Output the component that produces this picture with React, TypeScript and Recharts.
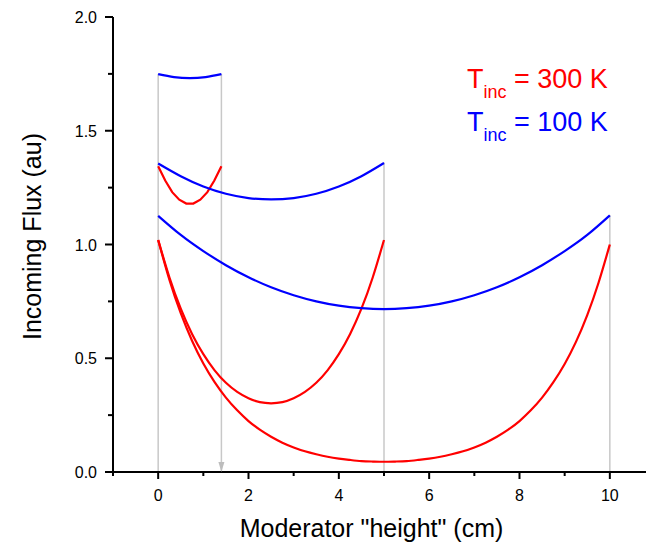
import React from 'react';
import { LineChart, Line, XAxis, YAxis, ReferenceLine, ReferenceDot } from 'recharts';

// moderator height 1.4 cm
const xs14Red = [0, 0.156, 0.311, 0.467, 0.622, 0.778, 0.933, 1.089, 1.244, 1.4];
const red14 = [1.344, 1.281, 1.23, 1.197, 1.18, 1.18, 1.197, 1.23, 1.281, 1.344];
const xs14Blue = [0, 0.35, 0.7, 1.05, 1.4];
const blue14 = [1.749, 1.736, 1.731, 1.736, 1.749];

// moderator height 5 cm
const xs5Red = [0, 0.25, 0.5, 0.75, 1, 1.25, 1.5, 1.75, 2, 2.25, 2.5, 2.75, 3, 3.25, 3.5, 3.75, 4, 4.25, 4.5, 4.75, 5];
const red5 = [1.02, 0.855, 0.718, 0.607, 0.518, 0.447, 0.392, 0.352, 0.324, 0.307, 0.302, 0.307, 0.324, 0.352, 0.392, 0.447, 0.518, 0.607, 0.718, 0.855, 1.02];
const xs5Blue = [0, 0.5, 1, 1.5, 2, 2.5, 3, 3.5, 4, 4.5, 5];
const blue5 = [1.356, 1.3, 1.255, 1.223, 1.204, 1.198, 1.204, 1.223, 1.255, 1.3, 1.358];

// moderator height 10 cm
const xs10Red = [
  0, 0.25, 0.5, 0.75, 1, 1.25, 1.5, 1.75, 2, 2.25, 2.5, 2.75, 3, 3.25, 3.5, 3.75, 4, 4.25, 4.5, 4.75, 5,
  5.25, 5.5, 5.75, 6, 6.25, 6.5, 6.75, 7, 7.25, 7.5, 7.75, 8, 8.25, 8.5, 8.75, 9, 9.25, 9.5, 9.75, 10,
];
const red10 = [
  1.02, 0.844, 0.698, 0.577, 0.477, 0.395, 0.327, 0.271, 0.224, 0.186, 0.155, 0.129, 0.108, 0.091, 0.078, 0.067, 0.059, 0.053, 0.048, 0.046, 0.045,
  0.046, 0.048, 0.053, 0.059, 0.067, 0.078, 0.091, 0.108, 0.129, 0.155, 0.186, 0.224, 0.271, 0.327, 0.395, 0.475, 0.572, 0.69, 0.832, 1.0,
];
const xs10Blue = [0, 0.5, 1, 1.5, 2, 2.5, 3, 3.5, 4, 4.5, 5, 5.5, 6, 6.5, 7, 7.5, 8, 8.5, 9, 9.5, 10];
const blue10 = [1.126, 1.042, 0.971, 0.909, 0.856, 0.812, 0.777, 0.75, 0.731, 0.72, 0.716, 0.72, 0.731, 0.75, 0.777, 0.812, 0.856, 0.909, 0.971, 1.042, 1.128];

// grey guide lines at the moderator edges
const guideX = [0, 1.4, 5, 10];
const guideTop = [1.75, 1.75, 1.36, 1.13];

const xTicks = [-1, 0, 1, 2, 3, 4, 5, 6, 7, 8, 9, 10, 11];
const yTicks = [0, 0.25, 0.5, 0.75, 1, 1.25, 1.5, 1.75, 2];

const RED = '#ff0000';
const BLUE = '#0000ff';
const GREY = '#c8c8c8';
const FONT = '"Liberation Sans", Arial, sans-serif';

const zip = (xs: number[], ys: number[]) => xs.map((x, i) => ({ x, y: ys[i] }));

const XTick = (props: any) => {
  const { x, y, payload } = props;
  const v = payload.value;
  const major = v % 2 === 0;
  return (
    <g>
      <line x1={x} x2={x} y1={y} y2={y + (major ? 7 : 4)} stroke="#000" strokeWidth={2} />
      {major && (
        <text x={x} y={y + 29} textAnchor="middle" fontSize={16} fill="#000" fontFamily={FONT}>
          {v}
        </text>
      )}
    </g>
  );
};

const YTick = (props: any) => {
  const { x, y, payload } = props;
  const v = payload.value;
  const major = Number.isInteger(v * 2);
  return (
    <g>
      <line x1={x - (major ? 8 : 5)} x2={x} y1={y} y2={y} stroke="#000" strokeWidth={2} />
      {major && (
        <text x={x - 16} y={y + 6} textAnchor="end" fontSize={16} fill="#000" fontFamily={FONT}>
          {v.toFixed(1)}
        </text>
      )}
    </g>
  );
};

const Arrow = (props: any) => {
  const { cx, cy } = props;
  return <path d={`M${cx - 3},${cy - 10} L${cx + 3},${cy - 10} L${cx},${cy} Z`} fill="#bdbdbd" />;
};

export default function App() {
  return (
    <div style={{ position: 'absolute', left: 0, top: 0, width: 646, height: 549, overflow: 'hidden', background: '#fff' }}>
      <LineChart width={662} height={549} margin={{ top: 17, right: 7, bottom: 0, left: 0 }}>
        <XAxis
          type="number"
          dataKey="x"
          domain={[-1, 11]}
          ticks={xTicks}
          interval={0}
          tickSize={0}
          tickMargin={0}
          tick={<XTick />}
          height={77}
          axisLine={{ stroke: '#000', strokeWidth: 2 }}
          tickLine={false}
          allowDataOverflow
        />
        <YAxis
          type="number"
          domain={[0, 2]}
          ticks={yTicks}
          interval={0}
          tickSize={0}
          tickMargin={0}
          tick={<YTick />}
          width={113}
          axisLine={{ stroke: '#000', strokeWidth: 2 }}
          tickLine={false}
        />
        {guideX.map((gx, i) => (
          <ReferenceLine
            key={gx}
            segment={[{ x: gx, y: 0 }, { x: gx, y: guideTop[i] }]}
            stroke={GREY}
            strokeWidth={1.5}
          />
        ))}
        <ReferenceDot x={1.4} y={0} shape={<Arrow />} />
        <Line data={zip(xs10Red, red10)} dataKey="y" type="natural" stroke={RED} strokeWidth={2.2} dot={false} isAnimationActive={false} />
        <Line data={zip(xs5Red, red5)} dataKey="y" type="natural" stroke={RED} strokeWidth={2.2} dot={false} isAnimationActive={false} />
        <Line data={zip(xs14Red, red14)} dataKey="y" type="linear" stroke={RED} strokeWidth={2.2} dot={false} isAnimationActive={false} />
        <Line data={zip(xs10Blue, blue10)} dataKey="y" type="natural" stroke={BLUE} strokeWidth={2.2} dot={false} isAnimationActive={false} />
        <Line data={zip(xs5Blue, blue5)} dataKey="y" type="natural" stroke={BLUE} strokeWidth={2.2} dot={false} isAnimationActive={false} />
        <Line data={zip(xs14Blue, blue14)} dataKey="y" type="natural" stroke={BLUE} strokeWidth={2.2} dot={false} isAnimationActive={false} />
      </LineChart>
      <svg width={646} height={549} style={{ position: 'absolute', left: 0, top: 0, pointerEvents: 'none' }} fontFamily={FONT}>
        <text transform="translate(41,236.5) rotate(-90)" textAnchor="middle" fontSize={25} fill="#000">
          Incoming Flux (au)
        </text>
        <text x={371.5} y={537} textAnchor="middle" fontSize={25} fill="#000">
          Moderator "height" (cm)
        </text>
        <text x={467} y={88} fontSize={27} fill={RED} xmlSpace="preserve">
          T<tspan fontSize={18} dy={10}>inc</tspan><tspan dy={-10}> = 300 K</tspan>
        </text>
        <text x={467} y={131} fontSize={27} fill={BLUE} xmlSpace="preserve">
          T<tspan fontSize={18} dy={10}>inc</tspan><tspan dy={-10}> = 100 K</tspan>
        </text>
      </svg>
    </div>
  );
}
